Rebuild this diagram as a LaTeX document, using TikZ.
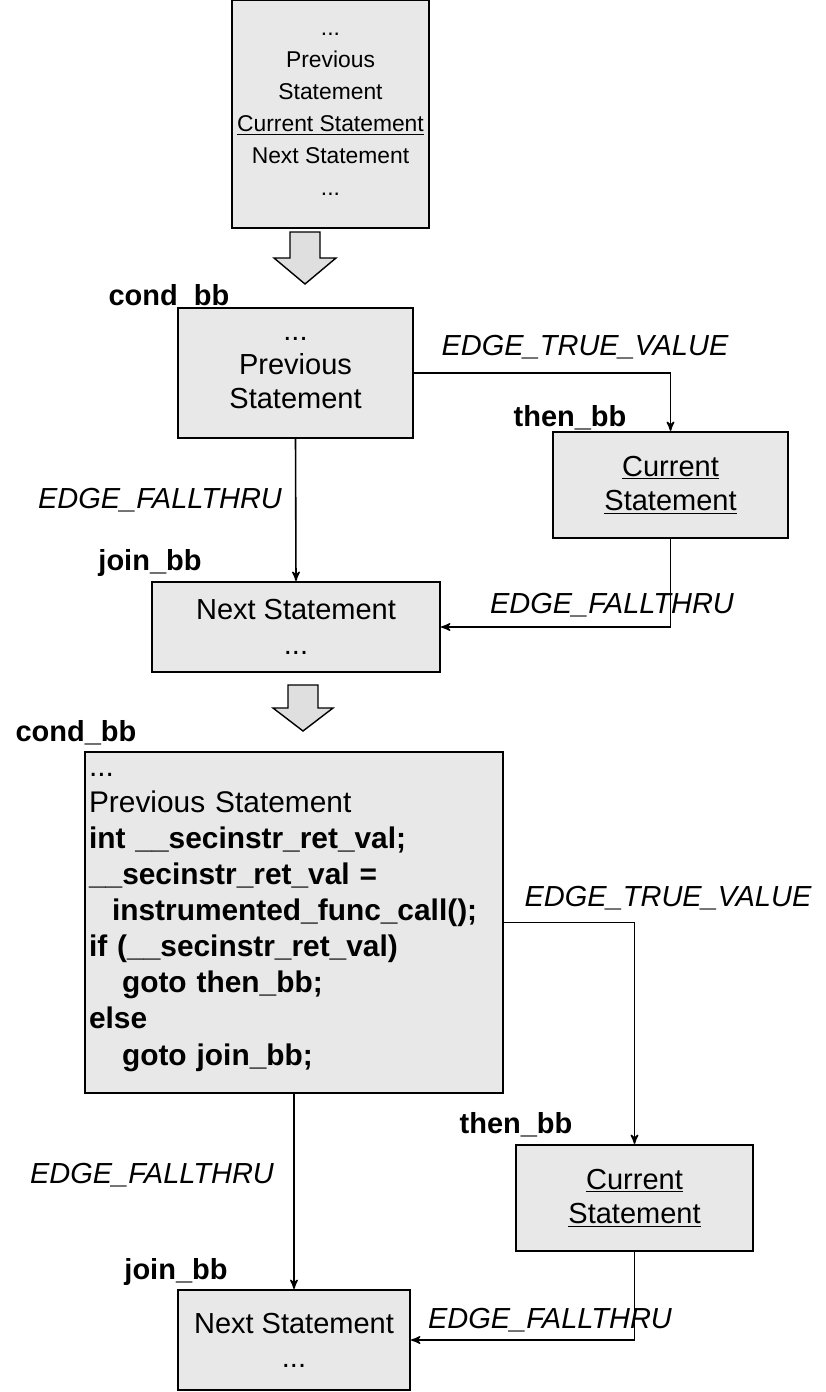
\documentclass[tikz,border=0pt]{standalone}
\usepackage{fontspec}
\setmainfont{Liberation Sans}
\usetikzlibrary{arrows}
\usetikzlibrary{positioning}
\usetikzlibrary{calc}

\begin{document}
\begin{tikzpicture}[->,>=stealth',x=0.02cm,y=-0.02cm,
    bb node/.style={rectangle,draw,line width=1.3pt,fill=gray!18,align=center,
      inner sep=0.08cm,font=\fontsize{16.5}{19.5}\selectfont},
    code node/.style={bb node,align=left,font=\fontsize{17}{20.5}\selectfont\bfseries},
    bb name/.style={font=\fontsize{16.5}{19.5}\selectfont\bfseries,inner sep=0pt},
    edge name/.style={font=\fontsize{16.5}{19.5}\selectfont\itshape,inner sep=0pt},
    flow/.style={line width=0.9pt},
    step arrow/.style={-,draw,line width=0.8pt,fill=gray!25}]

  \useasboundingbox (0,0) rectangle (825,1392);

  % statement sequence before the transformation
  \node[bb node,minimum width=3.94cm,minimum height=4.56cm,
        font=\fontsize{13}{18.2}\selectfont] (orig) at (330.5,114)
    {...\\Previous\\Statement\\\underline{Current Statement}\\Next Statement\\...};

  \coordinate (a1) at (305,232);
  \draw[step arrow] (a1) ++(-15,0) -- ++(30,0) -- ++(0,26) -- ++(16,0)
    -- ++(-31,26) -- ++(-31,-26) -- ++(16,0) -- cycle;

  % split into basic blocks
  \node[bb node,minimum width=4.7cm,minimum height=2.6cm] (cond1) at (295.5,373)
    {...\\Previous\\Statement};
  \node[bb node,minimum width=4.7cm,minimum height=2.12cm] (then1) at (670.5,485)
    {\underline{Current}\\\underline{Statement}};
  \node[bb node,minimum width=5.76cm,minimum height=1.8cm] (join1) at (296,627)
    {Next Statement\\...};

  \node[bb name] (cond1name) at (169,297) {cond\_bb};
  \node[bb name] (then1name) at (570,418) {then\_bb};
  \node[bb name] (join1name) at (150,563) {join\_bb};

  \draw[flow] (cond1.east) -| (then1.north);
  \draw[flow] (cond1.south) -- (join1.north);
  \draw[flow] (then1.south) |- (join1.east);

  \node[edge name] (true1) at (585,347) {EDGE\_TRUE\_VALUE};
  \node[edge name] (fall1) at (160,500) {EDGE\_FALLTHRU};
  \node[edge name] (fall1b) at (612,605) {EDGE\_FALLTHRU};

  \coordinate (a2) at (303,685);
  \draw[step arrow] (a2) ++(-15,0) -- ++(30,0) -- ++(0,23) -- ++(15,0)
    -- ++(-30,23) -- ++(-30,-23) -- ++(15,0) -- cycle;

  % instrumented basic blocks
  \node[code node,minimum width=8.36cm,minimum height=6.82cm,text width=8.2cm] (cond2) at (294,922.5)
    {{\mdseries ...}\\
     {\mdseries Previous Statement}\\
     int \_\_secinstr\_ret\_val;\\
     \_\_secinstr\_ret\_val =\\
     \hspace*{0.46cm}instrumented\_func\_call();\\
     if (\_\_secinstr\_ret\_val)\\
     \hspace*{0.66cm}goto then\_bb;\\
     else\\
     \hspace*{0.66cm}goto join\_bb;};
  \node[bb node,minimum width=4.74cm,minimum height=2.12cm] (then2) at (634.5,1198)
    {\underline{Current}\\\underline{Statement}};
  \node[bb node,minimum width=4.64cm,minimum height=2.0cm] (join2) at (294,1340)
    {Next Statement\\...};

  \node[bb name] (cond2name) at (76,733) {cond\_bb};
  \node[bb name] (then2name) at (516,1125) {then\_bb};
  \node[bb name] (join2name) at (176,1272) {join\_bb};

  \draw[flow] (cond2.east) -| (then2.north);
  \draw[flow] (cond2.south) -- (join2.north);
  \draw[flow] (then2.south) |- (join2.east);

  \node[edge name] (true2) at (668,898) {EDGE\_TRUE\_VALUE};
  \node[edge name] (fall2) at (152,1175) {EDGE\_FALLTHRU};
  \node[edge name] (fall2b) at (550,1320) {EDGE\_FALLTHRU};
\end{tikzpicture}
\end{document}
